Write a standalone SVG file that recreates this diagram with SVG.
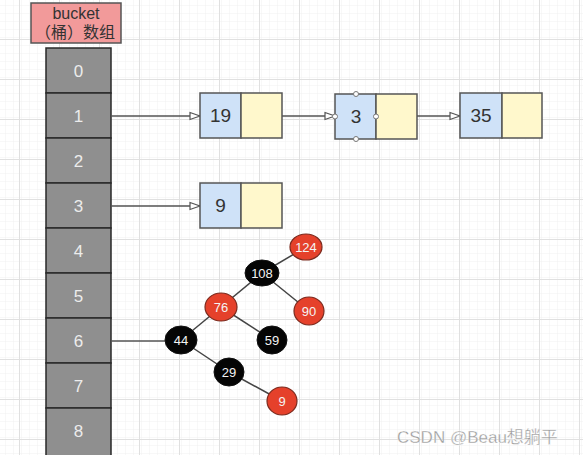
<svg xmlns="http://www.w3.org/2000/svg" width="583" height="455" viewBox="0 0 583 455">
<defs>
<pattern id="minor" x="3" y="7" width="8" height="8" patternUnits="userSpaceOnUse">
<path d="M8 0V8M0 8H8" fill="none" stroke="#f0f0f0" stroke-width="1"/>
</pattern>
<pattern id="major" x="19" y="39" width="40" height="40" patternUnits="userSpaceOnUse">
<rect width="40" height="40" fill="url(#minor)"/>
<path d="M0.5 0V40M0 0.5H40" fill="none" stroke="#e0e0e0" stroke-width="1"/>
</pattern>
<marker id="arr" viewBox="0 0 12 10" refX="11" refY="5" markerWidth="12" markerHeight="10" markerUnits="userSpaceOnUse" orient="auto">
<path d="M1 1.5L11 5L1 8.5Z" fill="#fff" stroke="#555" stroke-width="1.2"/>
</marker>
<style>
.cell{fill:#8f8f8f;stroke:#2a2a2a;stroke-width:1.5}
.ct{font-family:"Liberation Sans",Arial,sans-serif;font-size:17px;fill:#ececec;text-anchor:middle}
.bl{fill:#cfe2f8;stroke:#555;stroke-width:1.5}
.yl{fill:#fff8cc;stroke:#555;stroke-width:1.5}
.lt{font-family:"Liberation Sans",Arial,sans-serif;font-size:19px;fill:#333;text-anchor:middle}
.conn{fill:none;stroke:#555;stroke-width:1.3}
.tedge{fill:none;stroke:#444;stroke-width:1.5}
.red{fill:#e5412b;stroke:#7a2a1e;stroke-width:1.2}
.blk{fill:#050505;stroke:#111;stroke-width:1}
.tt{font-family:"Liberation Sans",Arial,sans-serif;font-size:13px;fill:#f4f4f4;text-anchor:middle}
.hd{fill:#fff;stroke:#777;stroke-width:1}
.lab{font-family:"Liberation Sans","Noto Sans CJK SC",sans-serif;font-size:16px;fill:#333;text-anchor:middle}
</style>
</defs>
<rect width="583" height="455" fill="#fff"/>
<rect width="583" height="455" fill="url(#major)"/>

<g id="bucket-label">
<rect x="31" y="3" width="90" height="40" fill="#f29a9a" stroke="#555" stroke-width="1.5"/>
<text class="lab" x="76" y="19">bucket</text>
<text class="lab" x="75" y="38">（桶）数组</text>
</g>

<g id="bucket-array">
<g id="cell0"><rect class="cell" x="46" y="48" width="65" height="45"/><text class="ct" x="78.5" y="77">0</text></g>
<g id="cell1"><rect class="cell" x="46" y="93" width="65" height="45"/><text class="ct" x="78.5" y="122">1</text></g>
<g id="cell2"><rect class="cell" x="46" y="138" width="65" height="45"/><text class="ct" x="78.5" y="167">2</text></g>
<g id="cell3"><rect class="cell" x="46" y="183" width="65" height="45"/><text class="ct" x="78.5" y="212">3</text></g>
<g id="cell4"><rect class="cell" x="46" y="228" width="65" height="45"/><text class="ct" x="78.5" y="257">4</text></g>
<g id="cell5"><rect class="cell" x="46" y="273" width="65" height="45"/><text class="ct" x="78.5" y="302">5</text></g>
<g id="cell6"><rect class="cell" x="46" y="318" width="65" height="45"/><text class="ct" x="78.5" y="347">6</text></g>
<g id="cell7"><rect class="cell" x="46" y="363" width="65" height="45"/><text class="ct" x="78.5" y="392">7</text></g>
<g id="cell8"><rect class="cell" x="46" y="408" width="65" height="50"/><text class="ct" x="78.5" y="437">8</text></g>
</g>

<g id="connectors">
<path class="conn" d="M111 116H200" marker-end="url(#arr)"/>
<path class="conn" d="M282 116H335" marker-end="url(#arr)"/>
<path class="conn" d="M417 116H460" marker-end="url(#arr)"/>
<path class="conn" d="M111 206H200" marker-end="url(#arr)"/>
<path class="conn" d="M111 341H166"/>
<path class="tedge" d="M181 340L221 307"/>
<path class="tedge" d="M221 307L262 273"/>
<path class="tedge" d="M262 273L306 247"/>
<path class="tedge" d="M262 273L309 311"/>
<path class="tedge" d="M221 307L272 340"/>
<path class="tedge" d="M181 340L229 372"/>
<path class="tedge" d="M229 372L282 401"/>
</g>

<g id="node19"><rect class="bl" x="200" y="93" width="41" height="45"/><rect class="yl" x="241" y="93" width="41" height="45"/><text class="lt" x="220.5" y="122">19</text></g>
<g id="node3"><rect class="bl" x="335" y="94" width="41" height="45"/><rect class="yl" x="376" y="94" width="41" height="45"/><text class="lt" x="356" y="123">3</text>
<circle class="hd" cx="356" cy="94" r="2.5"/><circle class="hd" cx="356" cy="139" r="2.5"/><circle class="hd" cx="335" cy="116.5" r="2.5"/><circle class="hd" cx="376" cy="116.5" r="2.5"/></g>
<g id="node35"><rect class="bl" x="460" y="93" width="42" height="45"/><rect class="yl" x="502" y="93" width="40" height="45"/><text class="lt" x="481" y="122">35</text></g>
<g id="node9"><rect class="bl" x="200" y="183" width="41" height="45"/><rect class="yl" x="241" y="183" width="41" height="45"/><text class="lt" x="220.5" y="212">9</text></g>

<g id="t124"><ellipse class="red" cx="306" cy="247" rx="16" ry="13"/><text class="tt" x="306" y="251.5">124</text></g>
<g id="t108"><ellipse class="blk" cx="262" cy="273" rx="17" ry="13"/><text class="tt" x="262" y="277.5">108</text></g>
<g id="t76"><ellipse class="red" cx="221" cy="307" rx="16" ry="14"/><text class="tt" x="221" y="311.5">76</text></g>
<g id="t90"><ellipse class="red" cx="309" cy="311" rx="15" ry="14"/><text class="tt" x="309" y="315.5">90</text></g>
<g id="t44"><ellipse class="blk" cx="181" cy="340" rx="16" ry="14"/><text class="tt" x="181" y="344.5">44</text></g>
<g id="t59"><ellipse class="blk" cx="272" cy="340" rx="15" ry="14"/><text class="tt" x="272" y="344.5">59</text></g>
<g id="t29"><ellipse class="blk" cx="229" cy="372" rx="15" ry="14"/><text class="tt" x="229" y="376.5">29</text></g>
<g id="t9"><ellipse class="red" cx="282" cy="401" rx="15" ry="14"/><text class="tt" x="282" y="405.5">9</text></g>

<text x="397" y="443" font-family="'Liberation Sans','Noto Sans CJK SC',sans-serif" font-size="17" fill="#9a9a9a" stroke="#fff" stroke-width="0.3">CSDN @Beau想躺平</text>
</svg>
